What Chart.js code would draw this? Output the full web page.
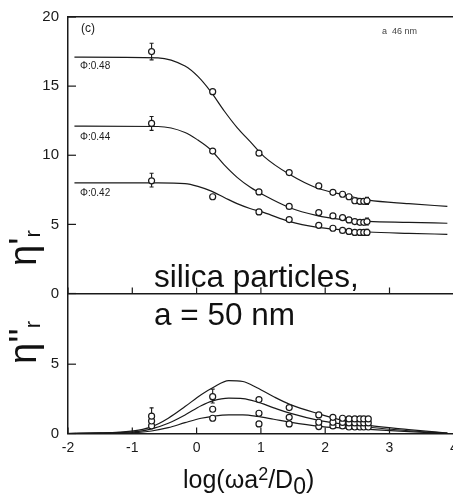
<!DOCTYPE html>
<html>
<head>
<meta charset="utf-8">
<script src="https://cdn.jsdelivr.net/npm/chart.js"></script>
<style>
html, body { margin: 0; padding: 0; background: #fff; overflow: hidden; }
#wrap { position: relative; width: 453px; height: 495px; overflow: hidden; }
canvas { position: absolute; left: 0; top: 0; }
.lbl { position: absolute; font-family: "Liberation Sans", Arial, sans-serif; color: #1a1a1a; white-space: nowrap; line-height: 1; }
.ytitle { position: absolute; font-family: "Liberation Sans", Arial, sans-serif; font-size: 38px; line-height: 38px; color: #111;
          transform: rotate(-90deg); transform-origin: 0 0; white-space: nowrap; }
.ytitle sub { font-size: 22px; vertical-align: -4px; }
.note { position: absolute; left: 154px; top: 257px; font-family: "Liberation Sans", Arial, sans-serif; font-size: 31.5px; line-height: 38px; color: #111; white-space: nowrap; }
.xtitle { position: absolute; left: 183px; top: 460px; font-family: "Liberation Sans", Arial, sans-serif; font-size: 25px; line-height: 28px; color: #111; white-space: nowrap; }
</style>
</head>
<body>
<div id="wrap">
  <canvas id="topChart" width="459" height="305"></canvas>
  <canvas id="botChart" width="459" height="495"></canvas>
  <div class="lbl" style="left:81px;top:22px;font-size:12px">(c)</div>
  <div class="lbl" style="left:382px;top:27px;font-size:9px;color:#444">a&nbsp;&nbsp;46 nm</div>
  <div class="lbl" style="left:80px;top:61px;font-size:10px">Φ:0.48</div>
  <div class="lbl" style="left:80px;top:132px;font-size:10px">Φ:0.44</div>
  <div class="lbl" style="left:80px;top:188px;font-size:10px">Φ:0.42</div>
  <div class="ytitle" style="left:4px;top:266px">η'<sub>r</sub></div>
  <div class="ytitle" style="left:4px;top:364px">η''<sub>r</sub></div>
  <div class="note">silica particles,<br>a = 50 nm</div>
  <div class="xtitle">log(ωa<span style="font-size:18px;vertical-align:8px">2</span>/D<span style="font-size:23px;vertical-align:-6px">0</span>)</div>
</div>
<script>
// storage modulus eta'_r (upper panel)
var fitX = [-1.9, -0.6, -0.18, 0.02, 0.22, 0.43, 0.63, 0.83, 1.05, 1.45, 1.86, 2.27, 2.67, 3.3, 3.9];
var fit48 = [17.1, 17.05, 16.45, 15.7, 14.6, 13.2, 12.0, 11.0, 9.9, 8.6, 7.65, 7.15, 6.75, 6.5, 6.3];
var fit44 = [12.1, 12.08, 11.65, 11.1, 10.4, 9.3, 8.4, 7.7, 7.1, 6.2, 5.65, 5.35, 5.22, 5.15, 5.08];
var fit42 = [8.0, 8.0, 7.95, 7.75, 7.42, 6.95, 6.5, 6.15, 5.85, 5.2, 4.8, 4.6, 4.45, 4.35, 4.28];

var obsX = [-0.7, 0.25, 0.97, 1.44, 1.9, 2.12, 2.27, 2.37, 2.46, 2.54, 2.6, 2.65];
var obs48 = [17.5, 14.6, 10.15, 8.75, 7.78, 7.32, 7.18, 7.0, 6.71, 6.67, 6.67, 6.71];
var obs44 = [12.3, 10.3, 7.35, 6.3, 5.85, 5.61, 5.49, 5.32, 5.2, 5.15, 5.15, 5.2];
var obs42 = [8.15, 7.0, 5.9, 5.35, 4.93, 4.72, 4.56, 4.49, 4.42, 4.42, 4.42, 4.42];

var errX = [-0.7, -0.7, -0.7, 2.65, 2.65, 2.65];
var errLo = [16.9, 11.8, 7.7, 6.45, 4.95, 4.2];
var errHi = [18.1, 12.8, 8.7, 6.95, 5.45, 4.65];

// loss modulus eta''_r (lower panel)
var fit2X = [-2, -1.5, -1.2, -0.9, -0.7, -0.44, -0.18, 0.07, 0.25, 0.5, 0.72, 0.94, 1.2, 1.45, 1.9, 2.27, 2.68, 3.3, 3.9];
var fit2_48 = [0.0, 0.04, 0.1, 0.25, 0.48, 1.1, 1.94, 2.8, 3.3, 3.82, 3.75, 3.3, 2.65, 2.1, 1.42, 0.95, 0.58, 0.28, 0.03];
var fit2_44 = [0.0, 0.03, 0.07, 0.15, 0.33, 0.74, 1.34, 2.0, 2.35, 2.55, 2.52, 2.28, 1.85, 1.47, 0.95, 0.68, 0.45, 0.2, 0.02];
var fit2_42 = [0.0, 0.02, 0.04, 0.08, 0.18, 0.42, 0.78, 1.1, 1.24, 1.34, 1.34, 1.24, 1.03, 0.82, 0.52, 0.4, 0.3, 0.13, 0.01];

var obs2X = [-0.7, 0.25, 0.97, 1.44, 1.9, 2.12, 2.27, 2.37, 2.46, 2.54, 2.6, 2.67];
var obs2_48 = [1.25, 2.66, 2.45, 1.87, 1.34, 1.17, 1.1, 1.05, 1.05, 1.05, 1.05, 1.05];
var obs2_44 = [0.9, 1.75, 1.46, 1.17, 0.81, 0.81, 0.8, 0.76, 0.76, 0.76, 0.76, 0.76];
var obs2_42 = [0.55, 1.1, 0.69, 0.69, 0.5, 0.55, 0.55, 0.47, 0.47, 0.47, 0.47, 0.47];

var err2X = [-0.7, 0.25, 2.67];
var err2Lo = [0.6, 2.2, 0.35];
var err2Hi = [1.85, 3.2, 1.2];

var ink = '#1a1a1a';

function pts(xs, ys) {
    return xs.map(function(x, i) { return {x: x, y: ys[i]}; });
}

function curve(xs, ys) {
    return {
        data: pts(xs, ys),
        borderColor: ink,
        borderWidth: 1.2,
        pointRadius: 0,
        cubicInterpolationMode: 'monotone',
        fill: false,
        order: 2
    };
}

function circles(xs, ys) {
    return {
        data: pts(xs, ys),
        showLine: false,
        pointRadius: 3,
        pointBorderWidth: 1.2,
        pointBorderColor: ink,
        pointBackgroundColor: '#fff',
        order: 0
    };
}

function errBars(xs, lo, hi) {
    return xs.map(function(x, i) {
        return {
            data: [{x: x, y: lo[i]}, {x: x, y: hi[i]}],
            borderColor: ink,
            borderWidth: 1.1,
            pointStyle: 'line',
            pointRadius: 2,
            pointBorderWidth: 1.1,
            pointBorderColor: ink,
            order: 1
        };
    });
}

// tick marks drawn inside the plot area
var inTicks = {
    id: 'inTicks',
    afterDraw: function(chart) {
        var ctx = chart.ctx, area = chart.chartArea;
        var sx = chart.scales.x, sy = chart.scales.y;
        ctx.save();
        ctx.strokeStyle = ink;
        ctx.lineWidth = 1.2;
        sx.ticks.forEach(function(t) {
            var p = sx.getPixelForValue(t.value);
            ctx.beginPath();
            ctx.moveTo(p, area.bottom);
            ctx.lineTo(p, area.bottom - 6);
            ctx.stroke();
        });
        sy.ticks.forEach(function(t) {
            var p = sy.getPixelForValue(t.value);
            ctx.beginPath();
            ctx.moveTo(area.left, p);
            ctx.lineTo(area.left + 8, p);
            ctx.stroke();
        });
        ctx.restore();
    }
};

function fixY(s) {
    s.width = 68;
    s.paddingTop = 0;
    s.paddingBottom = 0;
}

var tickFont = {family: '"Liberation Sans", Arial, sans-serif', size: 15};

// ---- upper panel
var topSets = [
    curve(fitX, fit48), curve(fitX, fit44), curve(fitX, fit42),
    circles(obsX, obs48), circles(obsX, obs44), circles(obsX, obs42)
].concat(errBars(errX, errLo, errHi));

new Chart(document.getElementById('topChart').getContext('2d'), {
    type: 'line',
    data: {datasets: topSets},
    plugins: [inTicks],
    options: {
        responsive: false,
        animation: false,
        events: [],
        layout: {padding: {top: 17, bottom: 11.5, left: 0, right: 0}},
        plugins: {legend: {display: false}, tooltip: {enabled: false}},
        scales: {
            x: {
                type: 'linear', min: -2, max: 4,
                ticks: {display: false, stepSize: 1},
                grid: {display: false, drawTicks: false},
                border: {display: true, color: ink, width: 1.5},
                afterFit: function(s) { s.height = 0; s.paddingLeft = 0; s.paddingRight = 0; }
            },
            x2: {
                type: 'linear', position: 'top', min: -2, max: 4,
                ticks: {display: false},
                grid: {display: false, drawTicks: false},
                border: {display: true, color: ink, width: 1.5},
                afterFit: function(s) { s.height = 0; s.paddingLeft = 0; s.paddingRight = 0; }
            },
            y: {
                min: 0, max: 20,
                ticks: {stepSize: 5, padding: 9, color: ink, font: tickFont},
                grid: {display: false, drawTicks: false},
                border: {display: true, color: ink, width: 1.5},
                afterFit: fixY
            }
        }
    }
});

// ---- lower panel
var botSets = [
    curve(fit2X, fit2_48), curve(fit2X, fit2_44), curve(fit2X, fit2_42),
    circles(obs2X, obs2_48), circles(obs2X, obs2_44), circles(obs2X, obs2_42)
].concat(errBars(err2X, err2Lo, err2Hi));

new Chart(document.getElementById('botChart').getContext('2d'), {
    type: 'line',
    data: {datasets: botSets},
    plugins: [inTicks],
    options: {
        responsive: false,
        animation: false,
        events: [],
        layout: {padding: {top: 293.5, bottom: 0, left: 0, right: 0}},
        plugins: {legend: {display: false}, tooltip: {enabled: false}},
        scales: {
            x: {
                type: 'linear', min: -2, max: 4,
                ticks: {stepSize: 1, padding: 6, color: ink, font: {family: tickFont.family, size: 14}, maxRotation: 0},
                grid: {display: false, drawTicks: false},
                border: {display: true, color: ink, width: 1.5},
                afterFit: function(s) { s.height = 61.5; s.paddingLeft = 0; s.paddingRight = 0; }
            },
            y: {
                min: 0, max: 10.1,
                ticks: {stepSize: 5, padding: 9, color: ink, font: tickFont},
                afterBuildTicks: function(s) {
                    s.ticks = s.ticks.filter(function(t) { return t.value === 0 || t.value === 5; });
                },
                grid: {display: false, drawTicks: false},
                border: {display: true, color: ink, width: 1.5},
                afterFit: fixY
            }
        }
    }
});
</script>
</body>
</html>
